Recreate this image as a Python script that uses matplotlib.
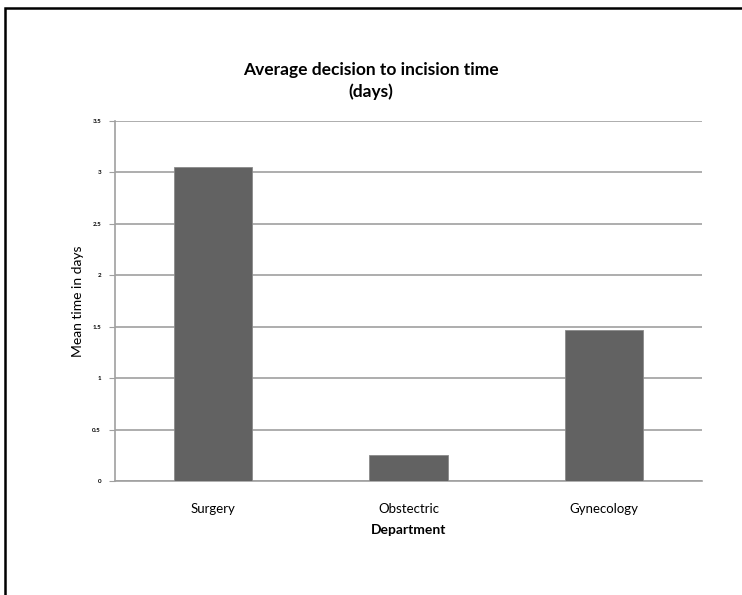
import matplotlib.pyplot as plt
from matplotlib.patches import Rectangle

departments = ["Surgery", "Obstectric", "Gynecology"]
mean_days = [3.05, 0.25, 1.47]
yticks = [0, 0.5, 1, 1.5, 2, 2.5, 3, 3.5]
ytick_labels = ["0", "0.5", "1", "1.5", "2", "2.5", "3", "3.5"]

plt.rcParams["font.family"] = ["Lato", "DejaVu Sans"]

fig = plt.figure(figsize=(7.42, 5.95), dpi=100)
ax = fig.add_axes([115 / 742, 1 - 481 / 595, 587 / 742, 360 / 595])

ax.bar(range(len(departments)), mean_days, width=0.4, color="#626262",
       edgecolor="#8a8a8a", linewidth=0.6, zorder=3)

ax.set_xlim(-0.5, 2.5)
ax.set_ylim(0, 3.5)
ax.set_yticks(yticks)
ax.set_yticklabels(ytick_labels, fontsize=4.5, fontweight="bold")
ax.set_xticks(range(len(departments)))
ax.set_xticklabels(departments, fontsize=9.5)
ax.tick_params(axis="x", length=0, pad=16)
ax.tick_params(axis="y", length=4, color="#a0a0a0", pad=6)
ax.grid(axis="y", color="#a0a0a0", linewidth=1.2, zorder=0)

for s in ["top", "right"]:
    ax.spines[s].set_visible(False)
for s in ["left", "bottom"]:
    ax.spines[s].set_color("#a0a0a0")
    ax.spines[s].set_linewidth(1.2)

fig.text(0.5, 1 - 81 / 595, "Average decision to incision time\n(days)",
         fontsize=12.5, fontweight="bold", ha="center", va="center",
         linespacing=1.4)
ax.set_ylabel("Mean time in days", fontsize=10, labelpad=6)
ax.set_xlabel("Department", fontsize=10, fontweight="bold", labelpad=6)

# outer frame (only left and top edges visible in the crop)
fig.patches.append(Rectangle((5 / 742, -0.1), 1.2, 1 - 8 / 595 + 0.1,
                             transform=fig.transFigure, fill=False,
                             edgecolor="black", linewidth=1.8))

fig.savefig("out.png", dpi=100)
